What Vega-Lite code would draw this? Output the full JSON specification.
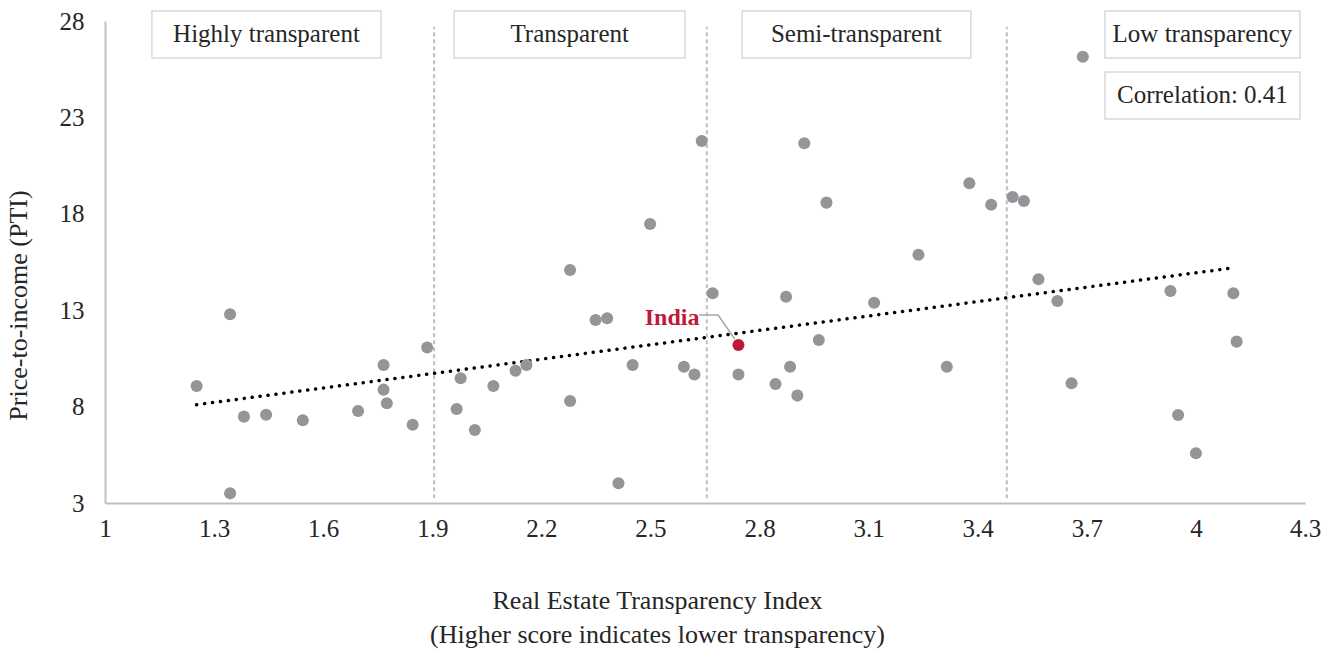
{
  "$schema": "https://vega.github.io/schema/vega-lite/v6.json",
  "autosize": "none",
  "width": 1200,
  "height": 482,
  "padding": {"left": 105, "top": 21, "right": 36, "bottom": 149},
  "background": "white",
  "config": {
    "view": {"stroke": null},
    "font": "Liberation Serif",
    "axis": {"labelFont": "Liberation Serif", "titleFont": "Liberation Serif", "labelColor": "#262626", "titleColor": "#262626", "titleFontWeight": "normal"}
  },
  "datasets": {
    "pts": [
      {"rti": 1.344, "pti": 12.79}, {"rti": 1.252, "pti": 9.07}, {"rti": 1.382, "pti": 7.48}, {"rti": 1.443, "pti": 7.58},
      {"rti": 1.544, "pti": 7.29}, {"rti": 1.696, "pti": 7.77}, {"rti": 1.766, "pti": 10.16}, {"rti": 1.766, "pti": 8.88},
      {"rti": 1.775, "pti": 8.17}, {"rti": 1.846, "pti": 7.06}, {"rti": 1.886, "pti": 11.06}, {"rti": 1.344, "pti": 3.5},
      {"rti": 1.978, "pti": 9.47}, {"rti": 1.967, "pti": 7.88}, {"rti": 2.017, "pti": 6.79}, {"rti": 2.068, "pti": 9.07},
      {"rti": 2.129, "pti": 9.86}, {"rti": 2.159, "pti": 10.16}, {"rti": 2.279, "pti": 15.09}, {"rti": 2.279, "pti": 8.29},
      {"rti": 2.349, "pti": 12.49}, {"rti": 2.381, "pti": 12.58}, {"rti": 2.412, "pti": 4.02}, {"rti": 2.451, "pti": 10.16},
      {"rti": 2.499, "pti": 17.47}, {"rti": 2.592, "pti": 10.07}, {"rti": 2.621, "pti": 9.67}, {"rti": 2.641, "pti": 21.78},
      {"rti": 2.671, "pti": 13.88}, {"rti": 2.742, "pti": 9.67}, {"rti": 2.844, "pti": 9.17}, {"rti": 2.884, "pti": 10.07},
      {"rti": 2.904, "pti": 8.57}, {"rti": 2.873, "pti": 13.7}, {"rti": 2.963, "pti": 11.45}, {"rti": 2.923, "pti": 21.66},
      {"rti": 2.984, "pti": 18.58}, {"rti": 3.115, "pti": 13.39}, {"rti": 3.237, "pti": 15.88}, {"rti": 3.315, "pti": 10.07},
      {"rti": 3.377, "pti": 19.58}, {"rti": 3.437, "pti": 18.47}, {"rti": 3.496, "pti": 18.87}, {"rti": 3.527, "pti": 18.66},
      {"rti": 3.567, "pti": 14.6}, {"rti": 3.689, "pti": 26.15}, {"rti": 3.619, "pti": 13.48}, {"rti": 3.658, "pti": 9.21},
      {"rti": 3.93, "pti": 14.0}, {"rti": 3.951, "pti": 7.56}, {"rti": 4.0, "pti": 5.58}, {"rti": 4.103, "pti": 13.88},
      {"rti": 4.112, "pti": 11.37}
    ],
    "india": [{"rti": 2.742, "pti": 11.19, "name": "India"}],
    "trend": [{"rti": 1.252, "pti": 8.1}, {"rti": 4.092, "pti": 15.17}],
    "bounds": [{"rti": 1.905, "lo": 3.25, "hi": 27.7}, {"rti": 2.655, "lo": 3.25, "hi": 27.7}, {"rti": 3.48, "lo": 3.25, "hi": 27.7}],
    "leader": [{"rti": 2.634, "pti": 12.75, "o": 1}, {"rti": 2.686, "pti": 12.75, "o": 2}, {"rti": 2.732, "pti": 11.5, "o": 3}],
    "boxes": [
      {"label": "Highly transparent", "x1": 1.129, "x2": 1.759, "y1": 26.08, "y2": 28.52, "xc": 1.444, "yc": 27.3},
      {"label": "Transparent", "x1": 1.96, "x2": 2.595, "y1": 26.08, "y2": 28.52, "xc": 2.278, "yc": 27.3},
      {"label": "Semi-transparent", "x1": 2.752, "x2": 3.381, "y1": 26.08, "y2": 28.52, "xc": 3.066, "yc": 27.3},
      {"label": "Low transparency", "x1": 3.75, "x2": 4.286, "y1": 26.08, "y2": 28.52, "xc": 4.018, "yc": 27.3},
      {"label": "Correlation: 0.41", "x1": 3.75, "x2": 4.286, "y1": 22.92, "y2": 25.35, "xc": 4.018, "yc": 24.14}
    ]
  },
  "layer": [
    {
      "data": {"name": "bounds"},
      "mark": {"type": "rule", "color": "#bfbfbf", "strokeWidth": 2, "strokeDash": [4, 3]},
      "encoding": {
        "x": {"field": "rti", "type": "quantitative", "scale": {"domain": [1, 4.3], "nice": false, "zero": false},
          "axis": {"values": [1, 1.3, 1.6, 1.9, 2.2, 2.5, 2.8, 3.1, 3.4, 3.7, 4, 4.3], "format": "~g", "grid": false, "ticks": false,
            "labelFlush": false, "labelOverlap": false,
            "domainColor": "#bfbfbf", "domainWidth": 2, "labelFontSize": 25, "labelPadding": 13,
            "title": ["Real Estate Transparency Index", "(Higher score indicates lower transparency)"],
            "titleFontSize": 26, "titleLineHeight": 34, "titleX": 552, "titleY": 84, "titleBaseline": "top", "titleAnchor": null, "titleAlign": "center"}},
        "y": {"field": "lo", "type": "quantitative", "scale": {"domain": [3, 28], "nice": false, "zero": false},
          "axis": {"values": [3, 8, 13, 18, 23, 28], "grid": false, "ticks": false, "domainColor": "#bfbfbf", "domainWidth": 2,
            "labelFontSize": 25, "labelPadding": 21, "labelFlush": false, "title": "Price-to-income (PTI)", "titleFontSize": 26,
            "titleAngle": 270, "titleX": -87, "titleY": 284, "titleAlign": "center", "titleBaseline": "middle"}},
        "y2": {"field": "hi"}
      }
    },
    {
      "data": {"name": "trend"},
      "mark": {"type": "line", "color": "#000000", "strokeWidth": 3.5, "strokeDash": [0.1, 7.9], "strokeCap": "round"},
      "encoding": {
        "x": {"field": "rti", "type": "quantitative"},
        "y": {"field": "pti", "type": "quantitative"}
      }
    },
    {
      "data": {"name": "pts"},
      "mark": {"type": "circle", "size": 145, "color": "#939598", "opacity": 1},
      "encoding": {
        "x": {"field": "rti", "type": "quantitative"},
        "y": {"field": "pti", "type": "quantitative"}
      }
    },
    {
      "data": {"name": "leader"},
      "mark": {"type": "line", "color": "#a6a6a6", "strokeWidth": 1.5},
      "encoding": {
        "x": {"field": "rti", "type": "quantitative"},
        "y": {"field": "pti", "type": "quantitative"},
        "order": {"field": "o"}
      }
    },
    {
      "data": {"name": "india"},
      "mark": {"type": "circle", "size": 145, "color": "#c0183a", "opacity": 1},
      "encoding": {
        "x": {"field": "rti", "type": "quantitative"},
        "y": {"field": "pti", "type": "quantitative"}
      }
    },
    {
      "data": {"name": "india"},
      "mark": {"type": "text", "color": "#c0183a", "fontWeight": "bold", "fontSize": 24, "align": "right", "baseline": "middle", "dx": -39, "dy": -27},
      "encoding": {
        "x": {"field": "rti", "type": "quantitative"},
        "y": {"field": "pti", "type": "quantitative"},
        "text": {"field": "name"}
      }
    },
    {
      "data": {"name": "boxes"},
      "mark": {"type": "rect", "fill": "white", "stroke": "#d9d9d9", "strokeWidth": 1.5},
      "encoding": {
        "x": {"field": "x1", "type": "quantitative"},
        "x2": {"field": "x2"},
        "y": {"field": "y1", "type": "quantitative"},
        "y2": {"field": "y2"}
      }
    },
    {
      "data": {"name": "boxes"},
      "mark": {"type": "text", "fontSize": 25, "color": "#262626", "align": "center", "baseline": "middle"},
      "encoding": {
        "x": {"field": "xc", "type": "quantitative"},
        "y": {"field": "yc", "type": "quantitative"},
        "text": {"field": "label"}
      }
    }
  ]
}
